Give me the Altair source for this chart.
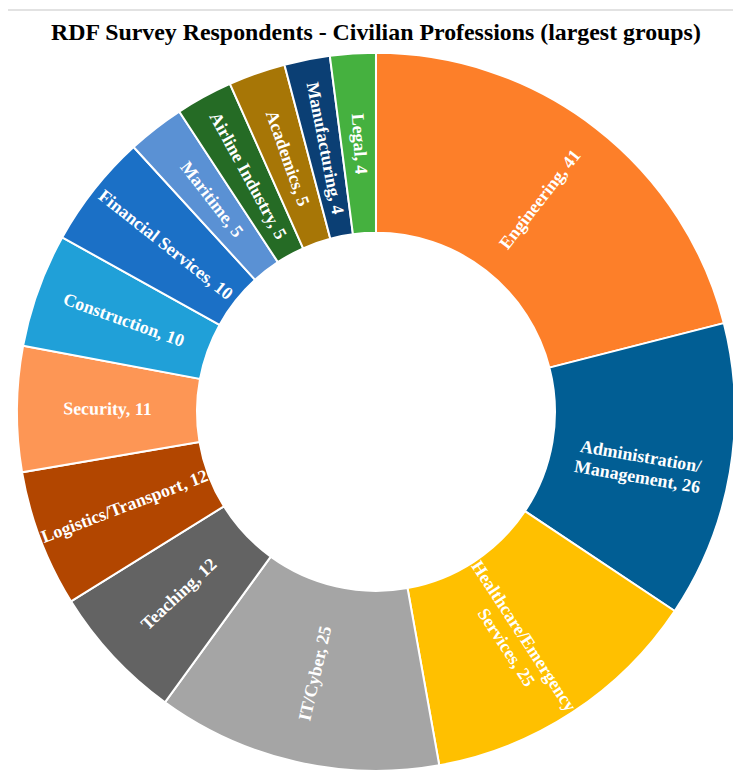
import altair as alt
import pandas as pd

categories = [
    "Engineering", "Administration/Management", "Healthcare/Emergency Services",
    "IT/Cyber", "Teaching", "Logistics/Transport", "Security", "Construction",
    "Financial Services", "Maritime", "Airline Industry", "Academics",
    "Manufacturing", "Legal",
]
values = [41, 26, 25, 25, 12, 12, 11, 10, 10, 5, 5, 5, 4, 4]
labels = [
    "Engineering, 41", "Administration/\nManagement, 26", "Healthcare/Emergency\nServices, 25",
    "IT/Cyber, 25", "Teaching, 12", "Logistics/Transport, 12", "Security, 11",
    "Construction, 10", "Financial Services, 10", "Maritime, 5",
    "Airline Industry, 5", "Academics, 5", "Manufacturing, 4", "Legal, 4",
]
colors = [
    "#FD7F29", "#015E94", "#FFC000", "#A5A5A5", "#636363", "#B24600", "#FD9655",
    "#20A0D8", "#1B70C6", "#5A91D4", "#256B25", "#A77606", "#0B3F74", "#45B13F",
]

df = pd.DataFrame({
    "category": categories,
    "value": values,
    "label": labels,
    "order": list(range(len(categories))),
})

base = (
    alt.Chart(df)
    .transform_joinaggregate(total="sum(value)")
    .transform_window(cum="sum(value)", sort=[alt.SortField("order")], frame=[None, 0])
    .transform_calculate(mid="(datum.cum - datum.value / 2) / datum.total * 360")
    .transform_calculate(rot="datum.mid < 180 ? (datum.mid + 270) % 360 : (datum.mid + 90) % 360")
    .encode(
        theta=alt.Theta("value:Q", stack=True),
        order=alt.Order("order:Q"),
    )
)

arcs = base.mark_arc(radius=361, radius2=180, stroke="white", strokeWidth=2).encode(
    color=alt.Color("category:N", scale=alt.Scale(domain=categories, range=colors), legend=None)
)

text = base.mark_text(
    radius=270, font="Liberation Serif", fontWeight="bold", fontSize=18,
    color="white", lineBreak="\n", lineHeight=21, align="center", baseline="middle",
).encode(
    text="label:N",
    angle=alt.Angle("rot:Q", scale=None),
)

frame = alt.Chart(pd.DataFrame({"a": [0]})).mark_rect(
    fill="transparent", stroke="#D9D9D9", strokeWidth=1.5
).encode(
    x=alt.value(-14), x2=alt.value(760), y=alt.value(-46), y2=alt.value(760)
)

chart = (
    alt.layer(frame, arcs, text)
    .properties(
        width=718,
        height=716,
        title=alt.TitleParams(
            "RDF Survey Respondents - Civilian Professions (largest groups)",
            font="Liberation Serif", fontSize=24, fontWeight="bold", color="black",
            anchor="middle", baseline="alphabetic", offset=0, dy=55,
        ),
        autosize=alt.AutoSizeParams(type="none"),
        padding={"left": 11, "top": 46, "right": 0, "bottom": 0},
    )
    .configure_view(stroke=None)
)

chart.save("out.html", embed_options={"renderer": "svg", "actions": False})
